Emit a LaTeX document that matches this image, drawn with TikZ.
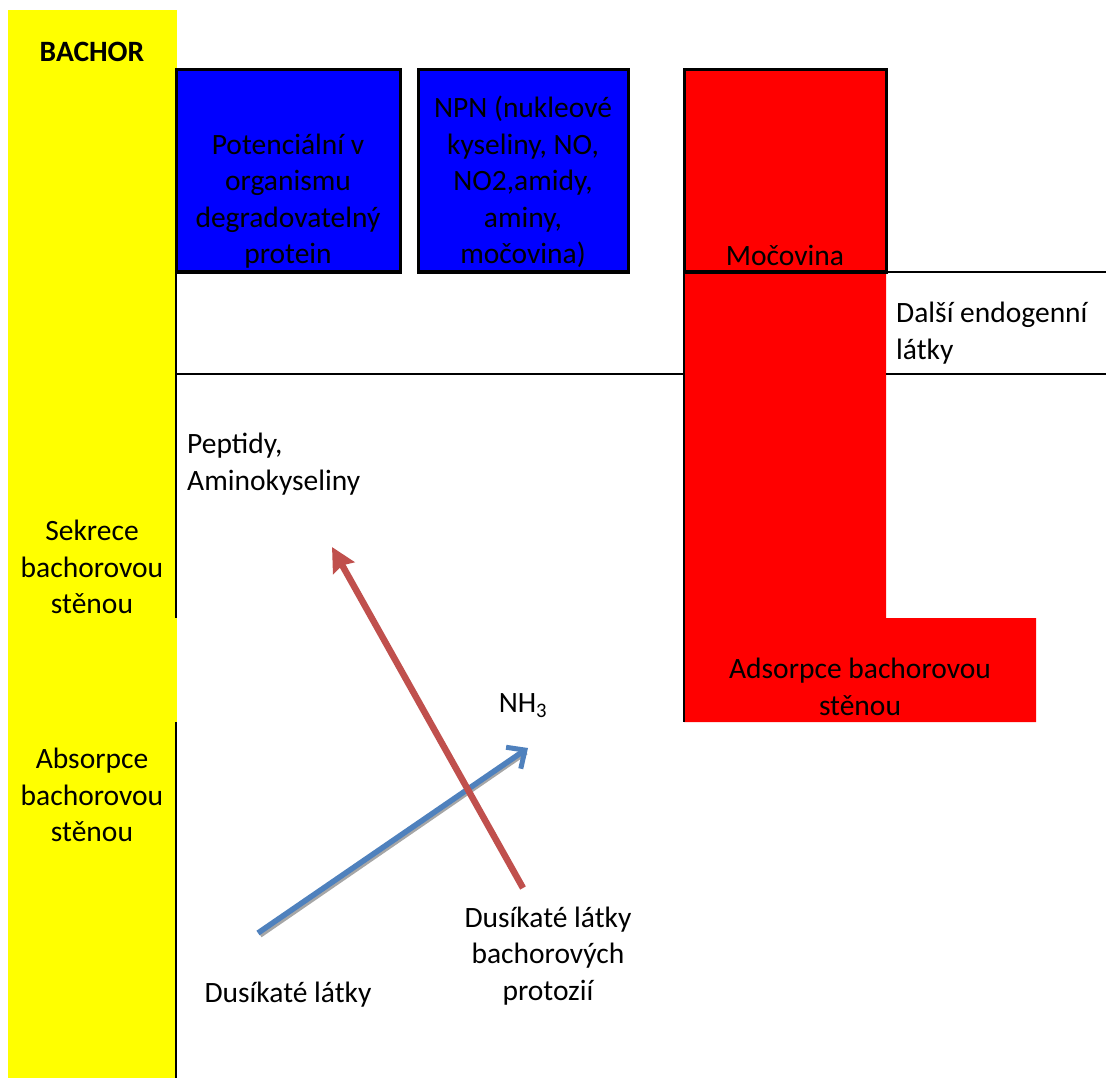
\documentclass[tikz,border=0pt]{standalone}
\usepackage{fontspec}
\setmainfont{Carlito}
\usetikzlibrary{arrows.meta}
\definecolor{yel}{HTML}{FFFF00}
\definecolor{blu}{HTML}{0000FF}
\definecolor{rd}{HTML}{FF0000}
\definecolor{arrred}{HTML}{C0504D}
\definecolor{arrblue}{HTML}{4F81BD}
\tikzset{
  lbl/.style={inner sep=0pt, font=\fontsize{29.5}{36.5}\selectfont, align=center},
  lbll/.style={inner sep=0pt, font=\fontsize{29.5}{36.5}\selectfont, align=left},
  boxline/.style={draw=black, line width=3pt},
  sep/.style={draw=black, line width=2.5pt},
}
\begin{document}
\begin{tikzpicture}[x=1pt,y=-1pt]
\useasboundingbox (0,0) rectangle (1106,1078);
% yellow column
\fill[yel] (8,10) rectangle (177,1078);
\draw[sep] (176,618) -- (176,70);
\draw[sep] (176,722) -- (176,1078);
% blue boxes
\filldraw[fill=blu, boxline] (176,70) rectangle (400,272);
\filldraw[fill=blu, boxline] (418,70) rectangle (628,272);
% red shapes
\fill[rd] (684,272) -- (886,272) -- (886,618) -- (1036,618) -- (1036,722) -- (684,722) -- cycle;
\filldraw[fill=rd, boxline] (684,70) rectangle (886,272);
\draw[sep] (684,272) -- (684,722);
% separator lines
\draw[sep] (176,374) -- (684,374);
\draw[sep] (886,272) -- (1106,272);
\draw[sep] (886,374) -- (1106,374);
% texts
\node[lbl, font=\fontsize{29.5}{36.5}\selectfont\bfseries] (bachor) at (92,52) {BACHOR};
\node[lbl] (prot) at (288,201) {Potenciální v\\organismu\\degradovatelný\\protein};
\node[lbl] (npn) at (523,182) {NPN (nukleové\\kyseliny, NO,\\NO2,amidy,\\aminy,\\močovina)};
\node[lbl] (moc) at (785,255) {Močovina};
\node[lbll, anchor=west] (dalsi) at (896,333) {Další endogenní\\látky};
\node[lbll, anchor=west] (pept) at (187,464) {Peptidy,\\Aminokyseliny};
\node[lbl] (sekr) at (92,567) {Sekrece\\bachorovou\\stěnou};
\node[lbl] (abs) at (92,795) {Absorpce\\bachorovou\\stěnou};
\node[lbl] (nh) at (523,706) {NH\textsubscript{3}};
\node[lbl] (ads) at (860,687) {Adsorpce bachorovou\\stěnou};
\node[lbl] (dus) at (288,995) {Dusíkaté látky};
\node[lbl] (prz) at (548,956) {Dusíkaté látky\\bachorových\\protozií};
% arrows
\coordinate (rtail) at (523,888);
\coordinate (rtip) at (332,547);
\coordinate (btail) at (258,933);
\coordinate (btip) at (528,748);
\coordinate (btails) at (260,935);
\coordinate (btips) at (526,752);
\draw[gray!70, line width=5.5pt] (btails) -- (btips);
\draw[arrblue, line width=5.5pt, -{Straight Barb[length=14pt,width=26pt,line width=5pt]}] (btail) -- (btip);
\draw[arrred, line width=6.5pt, -{Stealth[length=24pt,width=24pt,inset=3pt]}] (rtail) -- (rtip);
\end{tikzpicture}
\end{document}
